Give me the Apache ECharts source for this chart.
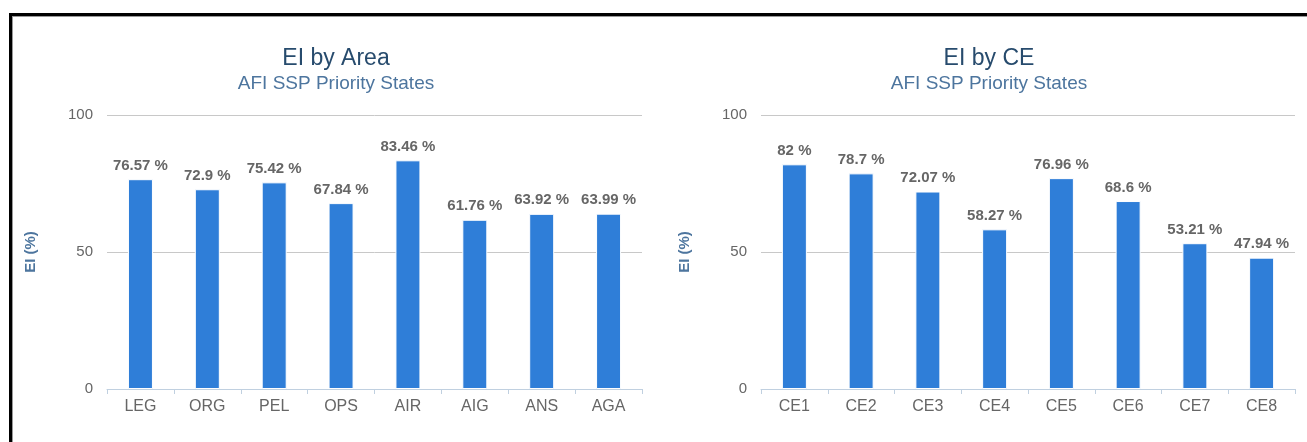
<!DOCTYPE html>
<html>
<head>
<meta charset="utf-8">
<script src="https://cdn.jsdelivr.net/npm/echarts@6/dist/echarts.min.js"></script>
<style>
html,body{margin:0;padding:0;background:#fff;}
#c{width:1307px;height:442px;}
</style>
</head>
<body>
<div id="c"></div>
<script>
const areaCategories = ['LEG','ORG','PEL','OPS','AIR','AIG','ANS','AGA'];
const areaValues = [76.57, 72.9, 75.42, 67.84, 83.46, 61.76, 63.92, 63.99];
const ceCategories = ['CE1','CE2','CE3','CE4','CE5','CE6','CE7','CE8'];
const ceValues = [82, 78.7, 72.07, 58.27, 76.96, 68.6, 53.21, 47.94];
const yTicks = [0, 50, 100];
const titles = ['EI by Area', 'EI by CE'];
const subtitle = 'AFI SSP Priority States';
const yName = 'EI (%)';

const FONT = 'Liberation Sans, Arial, sans-serif';
const barColor = '#2f7ed8';

function xAxis(idx, cats) {
  return {
    type: 'category', gridIndex: idx, data: cats,
    axisLine: { lineStyle: { color: '#c0d0e0', width: 1 } },
    axisTick: { show: true, length: 5, lineStyle: { color: '#c0d0e0' } },
    axisLabel: { color: '#666', fontSize: 16, fontFamily: FONT, margin: 10 },
    splitLine: { show: false }
  };
}
function yAxis(idx) {
  return {
    type: 'value', gridIndex: idx, min: yTicks[0], max: yTicks[yTicks.length - 1],
    interval: yTicks[1] - yTicks[0],
    name: yName, nameLocation: 'middle', nameGap: 69, nameRotate: 90,
    nameTextStyle: { color: '#4d759e', fontSize: 15, fontWeight: 'bold', fontFamily: FONT },
    axisLine: { show: false }, axisTick: { show: false },
    axisLabel: { color: '#666', fontSize: 15, fontFamily: FONT, margin: 14 },
    splitLine: { lineStyle: { color: '#c8c8c8', width: 1 } }
  };
}
function series(idx, vals) {
  return {
    type: 'bar', xAxisIndex: idx, yAxisIndex: idx, data: vals,
    barWidth: 25,
    itemStyle: { color: barColor, borderColor: '#ffffff', borderWidth: 1 },
    label: {
      show: true, position: 'top', distance: 6,
      formatter: p => p.value + ' %',
      color: '#666', fontSize: 15, fontWeight: 'bold', fontFamily: FONT
    }
  };
}

const chart = echarts.init(document.getElementById('c'), null, { renderer: 'canvas' });
chart.setOption({
  animation: false,
  backgroundColor: '#fff',
  title: [
    { text: titles[0], subtext: subtitle, left: 331, top: 42, textAlign: 'center', itemGap: 4,
      textStyle: { color: '#274b6d', fontSize: 23, fontWeight: 'normal', fontFamily: FONT },
      subtextStyle: { color: '#4d759e', fontSize: 19, fontFamily: FONT } },
    { text: titles[1], subtext: subtitle, left: 984, top: 42, textAlign: 'center', itemGap: 4,
      textStyle: { color: '#274b6d', fontSize: 23, fontWeight: 'normal', fontFamily: FONT },
      subtextStyle: { color: '#4d759e', fontSize: 19, fontFamily: FONT } }
  ],
  grid: [
    { left: 107, right: 665, top: 115, bottom: 53 },
    { left: 761, right: 12, top: 115, bottom: 53 }
  ],
  xAxis: [xAxis(0, areaCategories), xAxis(1, ceCategories)],
  yAxis: [yAxis(0), yAxis(1)],
  series: [series(0, areaValues), series(1, ceValues)],
  graphic: [
    { type: 'rect', shape: { x: 9, y: 13, width: 1298, height: 3 }, style: { fill: '#000' }, silent: true },
    { type: 'rect', shape: { x: 9, y: 13, width: 3, height: 429 }, style: { fill: '#000' }, silent: true },
    { type: 'rect', shape: { x: 12, y: 16, width: 1295, height: 1 }, style: { fill: '#999' }, silent: true },
    { type: 'rect', shape: { x: 12, y: 16, width: 1, height: 426 }, style: { fill: '#999' }, silent: true }
  ]
});
</script>
</body>
</html>
